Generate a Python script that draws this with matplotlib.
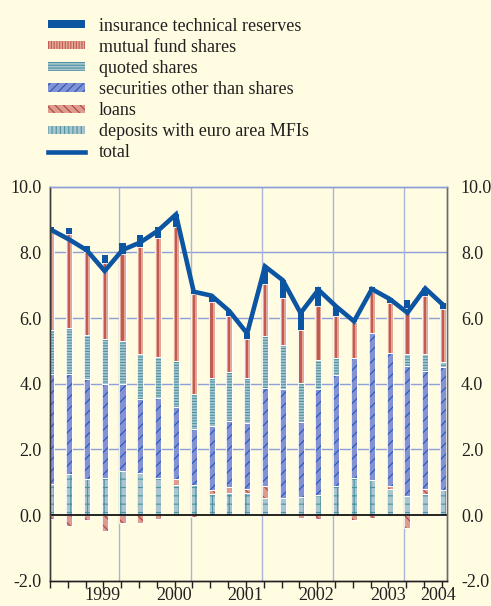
import matplotlib
matplotlib.use("Agg")
import matplotlib.pyplot as plt
import numpy as np
from matplotlib.patches import Patch
from matplotlib.lines import Line2D

# ---------------- data ----------------
quarters = (["1999Q%d" % q for q in range(1, 5)] + ["2000Q%d" % q for q in range(1, 5)] +
            ["2001Q%d" % q for q in range(1, 5)] + ["2002Q%d" % q for q in range(1, 5)] +
            ["2003Q%d" % q for q in range(1, 5)] + ["2004Q%d" % q for q in range(1, 4)])
year_labels = ["1999", "2000", "2001", "2002", "2003", "2004"]

deposits = [0.96, 1.24, 1.10, 1.12, 1.35, 1.27, 1.12, 0.93, 0.93, 0.66, 0.69, 0.69,
            0.53, 0.51, 0.56, 0.63, 0.88, 1.12, 1.07, 0.81, 0.59, 0.64, 0.76]
loans = [-0.10, -0.34, -0.13, -0.49, -0.25, -0.25, -0.12, 0.18, -0.05, 0.10, 0.18, 0.11,
         0.36, 0.00, -0.08, -0.12, 0.00, -0.13, -0.07, 0.08, -0.38, 0.17, -0.03]
securities = [3.35, 3.07, 3.03, 2.87, 2.64, 2.26, 2.46, 2.17, 1.68, 1.96, 2.00, 2.00,
              2.99, 3.32, 2.28, 3.20, 3.40, 3.65, 4.48, 4.05, 3.96, 3.59, 3.74]
quoted_shares = [1.34, 1.40, 1.35, 1.37, 1.32, 1.36, 1.24, 1.42, 1.07, 1.44, 1.49, 1.37,
                 1.58, 1.35, 1.19, 0.89, 0.49, 0.00, 0.00, 0.00, 0.37, 0.52, 0.17]
mutual_fund = [3.03, 2.84, 2.54, 2.30, 2.63, 3.28, 3.61, 4.06, 3.04, 2.34, 1.69, 1.20,
               1.57, 1.44, 1.60, 1.66, 1.30, 1.12, 1.25, 1.51, 1.37, 1.75, 1.59]
insurance = [0.10, 0.18, 0.17, 0.26, 0.35, 0.37, 0.33, 0.39, 0.10, 0.15, 0.15, 0.17,
             0.53, 0.54, 0.56, 0.57, 0.28, 0.12, 0.15, 0.15, 0.26, 0.23, 0.19]
total = [8.68, 8.39, 8.06, 7.43, 8.07, 8.30, 8.66, 9.15, 6.80, 6.68, 6.21, 5.53,
         7.57, 7.15, 6.15, 6.86, 6.35, 5.90, 6.88, 6.58, 6.16, 6.90, 6.40]

# ---------------- style ----------------
BG = "#fffce2"
TXT = "#231f20"
BLUE = "#0b55a3"
GRID = "#8e9fd8"
VGRID = "#a9b5da"

plt.rcParams["font.family"] = ["Liberation Serif", "DejaVu Serif"]
plt.rcParams["hatch.linewidth"] = 0.8
FS = 13

fig = plt.figure(figsize=(4.91, 6.06), dpi=100, facecolor=BG)
ax = fig.add_axes([0.1018, 0.0413, 0.8086, 0.6509], facecolor=BG)

x = np.arange(len(quarters))
dep = np.array(deposits)
lo = np.array(loans)
sec = np.array(securities)
qs = np.array(quoted_shares)
mf = np.array(mutual_fund)
ins = np.array(insurance)

W = 0.34

def seg(height, bottom, face, hatch=None, hcolor=None, z=3):
    ax.bar(x, height, width=W, bottom=bottom, color=face, hatch=hatch,
           edgecolor=hcolor if hcolor else face, linewidth=0, zorder=z)
    ax.bar(x, height, width=W, bottom=bottom, fill=False, edgecolor="white",
           linewidth=0.6, zorder=z + 0.1)

b_dep = np.zeros_like(dep)
seg(dep, b_dep, "#a9c5cd", "++", "#4d93a1")
b_lo = np.where(lo > 0, dep, 0.0)
seg(lo, b_lo, "#dc9c90", "\\\\\\", "#b3453d")
b_sec = dep + np.clip(lo, 0, None)
seg(sec, b_sec, "#8392d3", "///", "#2856bd")
b_qs = b_sec + sec
seg(qs, b_qs, "#a9c5cd", "------", "#4d93a1")
b_mf = b_qs + qs
ax.bar(x, mf, width=W, bottom=b_mf, color="#e3a797", linewidth=0, zorder=3)
ax.bar(x, mf, width=W * 0.38, bottom=b_mf, color="#c25c50", linewidth=0, zorder=3.05)
ax.bar(x, mf, width=W, bottom=b_mf, fill=False, edgecolor="white", linewidth=0.6, zorder=3.1)
b_ins = b_mf + mf
ax.bar(x, ins, width=W, bottom=b_ins, color=BLUE, linewidth=0, zorder=3)

ax.plot(x, total, color=BLUE, lw=3.3, solid_joinstyle="miter", zorder=6)

# axes, grids
ax.set_xlim(-0.056, 22.22)
ax.set_ylim(-2, 10)
for yv in [2, 4, 6, 8]:
    ax.axhline(yv, color=GRID, lw=1.0, zorder=1)
ax.axhline(0, color="black", lw=1.2, zorder=4)
for xv in np.arange(3.83, 22, 4):
    ax.axvline(xv, color=VGRID, lw=1.0, zorder=1)

ax.set_yticks([-2, 0, 2, 4, 6, 8, 10])
ax.set_yticklabels(["%.1f" % v for v in [-2, 0, 2, 4, 6, 8, 10]])
ax.tick_params(axis="y", length=0, pad=6, labelsize=FS, labelcolor=TXT)

ax2 = ax.twinx()
ax2.set_ylim(-2, 10)
ax2.set_yticks([-2, 0, 2, 4, 6, 8, 10])
ax2.set_yticklabels(["%.1f" % v for v in [-2, 0, 2, 4, 6, 8, 10]])
ax2.tick_params(axis="y", length=0, pad=10, labelsize=FS, labelcolor=TXT)

ax.set_xticks(x - 0.07)
ax.set_xticklabels([""] * len(x))
ax.tick_params(axis="x", which="major", direction="out", length=5, width=1.0, color=TXT)
ax.set_xticks([2.9, 6.9, 10.9, 14.9, 18.9, 21.7], minor=True)
ax.set_xticklabels(year_labels, minor=True)
ax.tick_params(axis="x", which="minor", length=0, pad=4.5, labelsize=FS, labelcolor=TXT)

for a in (ax, ax2):
    a.spines["top"].set_color(GRID)
    a.spines["left"].set_color("#3a3a3a")
    a.spines["right"].set_color("#6a6a6a")
    a.spines["bottom"].set_color(TXT)
    for s in a.spines.values():
        s.set_linewidth(1.0)
ax2.patch.set_visible(False)

# legend
handles = [
    Patch(facecolor=BLUE, edgecolor=BLUE, linewidth=0),
    Patch(facecolor="#e3a797", hatch="||||||", edgecolor="#c25c50", linewidth=0),
    Patch(facecolor="#a9c5cd", hatch="------", edgecolor="#4d93a1", linewidth=0),
    Patch(facecolor="#8392d3", hatch="////", edgecolor="#2856bd", linewidth=0),
    Patch(facecolor="#dc9c90", hatch="\\\\\\\\", edgecolor="#b3453d", linewidth=0),
    Patch(facecolor="#a9c5cd", hatch="||||", edgecolor="#4d93a1", linewidth=0),
    Line2D([], [], color=BLUE, lw=3.3),
]
labels = ["insurance technical reserves", "mutual fund shares", "quoted shares",
          "securities other than shares", "loans", "deposits with euro area MFIs", "total"]
fig.legend(handles, labels, loc="upper left", bbox_to_anchor=(0.0978, 0.971),
           bbox_transform=fig.transFigure, frameon=False, fontsize=FS,
           borderaxespad=0, borderpad=0, handlelength=2.05, handleheight=0.33,
           handletextpad=0.78, labelspacing=0.23, labelcolor=TXT)

fig.savefig("out.png", dpi=100, facecolor=BG)
